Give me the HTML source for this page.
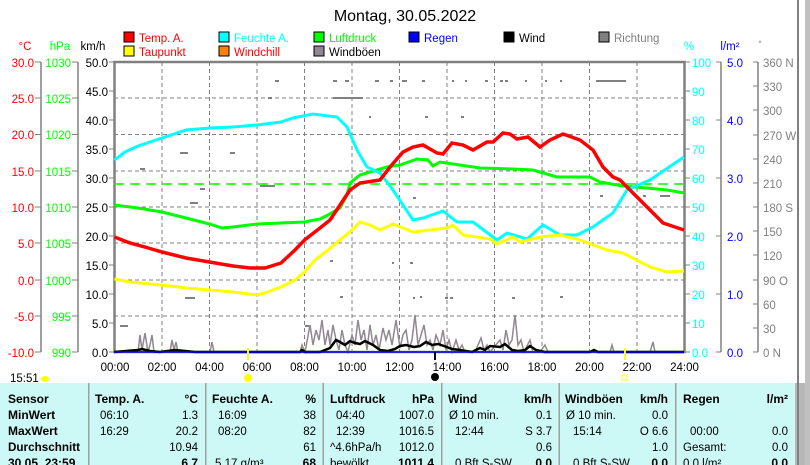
<!DOCTYPE html>
<html><head><meta charset="utf-8"><style>
body{margin:0;background:#fff;width:810px;height:465px;overflow:hidden;font-family:"Liberation Sans",sans-serif}
svg{position:absolute;left:0;top:0}
</style></head><body>
<svg width="810" height="465" viewBox="0 0 810 465" xmlns="http://www.w3.org/2000/svg" font-family="Liberation Sans, sans-serif">
<rect x="0" y="0" width="810" height="465" fill="#fff"/>
<text x="405" y="21" font-size="16" text-anchor="middle">Montag, 30.05.2022</text>
<g font-size="11.5">
<rect x="124" y="32" width="10" height="10" fill="#f00" stroke="#000"/><text x="139" y="42" fill="#f00">Temp. A.</text>
<rect x="219" y="32" width="10" height="10" fill="#0ff" stroke="#000"/><text x="234" y="42" fill="#0ff">Feuchte A.</text>
<rect x="314" y="32" width="10" height="10" fill="#0f0" stroke="#000"/><text x="329" y="42" fill="#0f0">Luftdruck</text>
<rect x="409" y="32" width="10" height="10" fill="#00f" stroke="#000"/><text x="424" y="42" fill="#00f">Regen</text>
<rect x="504" y="32" width="10" height="10" fill="#000" stroke="#000"/><text x="519" y="42" fill="#000">Wind</text>
<rect x="599" y="32" width="10" height="10" fill="#808080" stroke="#000"/><text x="614" y="42" fill="#808080">Richtung</text>
<rect x="124" y="46" width="10" height="10" fill="#ff0" stroke="#000"/><text x="139" y="56" fill="#f00">Taupunkt</text>
<rect x="219" y="46" width="10" height="10" fill="#ff8000" stroke="#000"/><text x="234" y="56" fill="#f00">Windchill</text>
<rect x="314" y="46" width="10" height="10" fill="#908890" stroke="#000"/><text x="329" y="56" fill="#000">Windböen</text>
</g>
<g font-size="11.5">
<text x="25" y="50" fill="#f00" text-anchor="middle">°C</text>
<text x="60" y="50" fill="#0f0" text-anchor="middle">hPa</text>
<text x="93" y="50" fill="#000" text-anchor="middle">km/h</text>
<text x="689" y="50" fill="#0ff" text-anchor="middle">%</text>
<text x="730" y="50" fill="#00f" text-anchor="middle">l/m²</text>
<text x="760" y="47" fill="#808080" text-anchor="middle" font-size="9">°</text>
</g>
<g stroke="#808080" stroke-width="1.5">
<line x1="41" y1="62" x2="41" y2="352"/><line x1="78" y1="62" x2="78" y2="352"/>
<line x1="721" y1="62" x2="721" y2="352"/><line x1="758" y1="62" x2="758" y2="352"/>
</g>
<g font-size="11.5" text-anchor="end">
<g fill="#f00">
<text x="34" y="67">30.0</text><text x="34" y="103">25.0</text><text x="34" y="139">20.0</text><text x="34" y="176">15.0</text><text x="34" y="212">10.0</text><text x="34" y="248">5.0</text><text x="34" y="285">0.0</text><text x="34" y="321">-5.0</text><text x="34" y="357">-10.0</text></g>
<g fill="#0f0">
<text x="71" y="67">1030</text><text x="71" y="103">1025</text><text x="71" y="139">1020</text><text x="71" y="176">1015</text><text x="71" y="212">1010</text><text x="71" y="248">1005</text><text x="71" y="285">1000</text><text x="71" y="321">995</text><text x="71" y="357">990</text></g>
<g fill="#000">
<text x="108" y="67">50.0</text><text x="108" y="96">45.0</text><text x="108" y="125">40.0</text><text x="108" y="154">35.0</text><text x="108" y="183">30.0</text><text x="108" y="212">25.0</text><text x="108" y="241">20.0</text><text x="108" y="270">15.0</text><text x="108" y="299">10.0</text><text x="108" y="328">5.0</text><text x="108" y="357">0.0</text></g>
</g>
<g stroke="#808080" stroke-width="1">
<path d="M35 62H41M35 98H41M35 134.5H41M35 171H41M35 207H41M35 243H41M35 280H41M35 316H41M35 352H41"/>
<path d="M72 62H78M72 98H78M72 134.5H78M72 171H78M72 207H78M72 243H78M72 280H78M72 316H78M72 352H78"/>
<path d="M109 62H114M109 91H114M109 120H114M109 149H114M109 178H114M109 207H114M109 236H114M109 265H114M109 294H114M109 323H114M109 352H114"/>
<path d="M685 62H690M685 91H690M685 120H690M685 149H690M685 178H690M685 207H690M685 236H690M685 265H690M685 294H690M685 323H690M685 352H690"/>
<path d="M716 62H721M716 120H721M716 178H721M716 236H721M716 294H721M716 352H721"/>
<path d="M753 62H758M753 86H758M753 110H758M753 135H758M753 159H758M753 183H758M753 207H758M753 231H758M753 255H758M753 280H758M753 304H758M753 328H758M753 352H758"/>
</g>
<g font-size="11.5">
<g fill="#0ff"><text x="692" y="67">100</text><text x="692" y="96">90</text><text x="692" y="125">80</text><text x="692" y="154">70</text><text x="692" y="183">60</text><text x="692" y="212">50</text><text x="692" y="241">40</text><text x="692" y="270">30</text><text x="692" y="299">20</text><text x="692" y="328">10</text><text x="692" y="357">0.0</text></g>
<g fill="#00f"><text x="727" y="67">5.0</text><text x="727" y="125">4.0</text><text x="727" y="183">3.0</text><text x="727" y="241">2.0</text><text x="727" y="299">1.0</text><text x="727" y="357">0.0</text></g>
<g fill="#808080"><text x="763" y="67">360 N</text><text x="763" y="91">330</text><text x="763" y="115">300</text><text x="763" y="140">270 W</text><text x="763" y="164">240</text><text x="763" y="188">210</text><text x="763" y="212">180 S</text><text x="763" y="236">150</text><text x="763" y="260">120</text><text x="763" y="285">90 O</text><text x="763" y="309">60</text><text x="763" y="333">30</text><text x="763" y="357">0 N</text></g>
</g>
<g stroke="#808080" stroke-dasharray="4,3" stroke-width="1">
<path d="M162 62V352M209.5 62V352M257 62V352M304.5 62V352M352 62V352M399.5 62V352M447 62V352M494.5 62V352M542 62V352M589.5 62V352M637 62V352"/>
<path d="M114 98H684M114 134.5H684M114 171H684M114 207H684M114 243H684M114 280H684M114 316H684"/>
</g>
<rect x="114.5" y="62" width="570" height="290" fill="none" stroke="#808080" stroke-width="2.5"/>
<g fill="#808080">
<rect x="275" y="80" width="4" height="2"/><rect x="333" y="80" width="4" height="2"/><rect x="345" y="80" width="4" height="2"/><rect x="375" y="80" width="4" height="2"/><rect x="333" y="97" width="30" height="2"/><rect x="390" y="80" width="3" height="2"/><rect x="402" y="80" width="5" height="2"/><rect x="422" y="80" width="3" height="2"/><rect x="452" y="80" width="2" height="2"/><rect x="465" y="80" width="2" height="2"/><rect x="485" y="80" width="3" height="2"/><rect x="500" y="80" width="3" height="2"/><rect x="505" y="80" width="3" height="2"/><rect x="525" y="80" width="2" height="2"/><rect x="545" y="80" width="2" height="2"/><rect x="560" y="80" width="2" height="2"/><rect x="596" y="80" width="30" height="2"/><rect x="268" y="97" width="4" height="2"/><rect x="369" y="116" width="2" height="2"/><rect x="425" y="116" width="3" height="2"/><rect x="461" y="116" width="3" height="2"/><rect x="180" y="152" width="8" height="2"/><rect x="230" y="152" width="5" height="2"/><rect x="200" y="188" width="5" height="2"/><rect x="260" y="185" width="15" height="2"/><rect x="190" y="202" width="8" height="2"/><rect x="140" y="168" width="5" height="2"/><rect x="185" y="297" width="10" height="2"/><rect x="330" y="260" width="3" height="2"/><rect x="410" y="262" width="3" height="2"/><rect x="340" y="296" width="3" height="2"/><rect x="420" y="296" width="2" height="2"/><rect x="445" y="297" width="3" height="2"/><rect x="512" y="297" width="3" height="2"/><rect x="413" y="297" width="2" height="2"/><rect x="392" y="262" width="2" height="2"/><rect x="413" y="197" width="3" height="2"/><rect x="600" y="195" width="3" height="2"/><rect x="643" y="195" width="3" height="2"/><rect x="660" y="195" width="10" height="2"/><rect x="120" y="325" width="8" height="2"/><rect x="305" y="325" width="4" height="2"/><rect x="450" y="297" width="3" height="2"/><rect x="560" y="296" width="3" height="2"/></g>
<polyline fill="none" stroke="#908890" stroke-width="1.5" points="138,352 140,335 142,350 145,333 148,352 150,345 152,335 154,352 170,352 172,340 174,350 176,342 178,352 210,352 212,342 214,352 300,352 302,345 305,352 310,325 313,345 316,330 319,340 322,320 325,345 328,330 330,345 333,325 336,340 339,350 342,330 345,345 348,352 352,335 355,345 358,320 361,340 364,330 367,350 370,325 373,345 376,335 379,350 383,328 386,340 389,330 392,345 396,320 400,348 403,335 406,330 409,350 412,340 415,315 418,345 421,335 424,325 427,345 430,340 433,350 436,335 440,345 443,330 446,350 449,340 452,352 456,340 459,350 462,345 465,352 475,352 478,345 481,338 484,350 487,345 490,352 500,340 503,350 506,330 509,345 512,340 515,315 518,345 521,340 524,352 530,340 533,352 540,352 545,345 548,352 610,352 612,345 614,352 650,352 653,342 655,352"/>
<polyline fill="none" stroke="#000" stroke-width="2.5" points="114,352 138,350 142,349 150,351 160,352 175,350 185,351 195,352 300,352 302,350 305,352 320,352 330,348 336,340 340,342 345,345 350,341 355,343 360,344 365,341 373,345 380,350 388,351 395,349 400,346 406,345 414,347 420,346 426,342 432,345 438,344 444,346 452,349 460,350 472,352 480,348 485,350 490,346 500,347 505,344 512,350 518,351 525,350 530,346 536,350 545,352 590,352 594,350 598,352 684,352"/>
<line x1="114" y1="352" x2="684" y2="352" stroke="#00f" stroke-width="1.5"/>
<line x1="114" y1="184" x2="684" y2="184" stroke="#0f0" stroke-width="1.5" stroke-dasharray="10,6"/>
<polyline fill="none" stroke="#0f0" stroke-width="3" points="114.5,205 138,208 162,212 186,218 209.5,224 222,228 233,227 257,224 281,223 304.5,222 320,219 328,215 340,208 347,195 350,183 360,175 387,167 400,165 417,159 428,160 433,166 440,162 453,164 480,168 513,169 533,170 557,177 590,177 600,182 623,186 647,188 667,190 684.5,193"/>
<polyline fill="none" stroke="#0ff" stroke-width="3" points="114.5,160 125,152 138,146 150,142 162,138 186,130 209.5,128 233,127 257,125 281,122 293,118 313,114 337,117 347,127 357,150 367,167 380,173 393,190 413,220 423,218 443,211 457,222 473,222 497,240 507,233 527,239 543,225 560,235 577,235 593,227 613,213 627,190 650,180 684,157"/>
<polyline fill="none" stroke="#ff0" stroke-width="3" points="114.5,279 130,282 150,284 170,286 186,288 209.5,290 233,292 257,295 265,293 281,287 295,280 304.5,272 315,260 328,250 340,240 352,230 360,222 370,225 380,230 393,224 413,232 447,228 453,225 463,235 490,239 497,244 513,237 520,242 540,237 560,235 580,240 607,250 623,253 650,267 667,272 684,271"/>
<polyline fill="none" stroke="#f00" stroke-width="3.5" points="114.5,237 130,243 145,247 162,252 186,258 209.5,262 233,266 250,268 265,268 281,263 295,250 304.5,240 320,228 330,220 340,205 350,190 360,183 380,180 390,167 403,152 413,147 423,145 437,153 443,154 452,143 463,145 473,150 487,142 493,142 503,133 510,134 517,139 528,137 540,147 550,140 563,134 580,140 593,150 603,167 613,177 620,180 640,200 663,223 684,230"/>
<g font-size="11.5" text-anchor="middle">
<text x="115" y="371">00:00</text><text x="162" y="371">02:00</text><text x="209.5" y="371">04:00</text><text x="257" y="371">06:00</text><text x="304.5" y="371">08:00</text><text x="352" y="371">10:00</text><text x="399.5" y="371">12:00</text><text x="447" y="371">14:00</text><text x="494.5" y="371">16:00</text><text x="542" y="371">18:00</text><text x="589.5" y="371">20:00</text><text x="637" y="371">22:00</text><text x="684.5" y="371">24:00</text>
</g>
<text x="10" y="382" font-size="11.5">15:51</text>
<ellipse cx="45" cy="379" rx="4" ry="3" fill="#ff0"/>
<circle cx="248" cy="378" r="4" fill="#ff0"/>
<line x1="248" y1="348" x2="248" y2="360" stroke="#ff0" stroke-width="2"/>
<line x1="435" y1="352" x2="435" y2="360" stroke="#000" stroke-width="2"/>
<circle cx="435" cy="377" r="4" fill="#000"/>
<rect x="622" y="375" width="5" height="5" fill="none" stroke="#ff0"/>
<line x1="625" y1="348" x2="625" y2="360" stroke="#ff0" stroke-width="2"/>
<rect x="0" y="383" width="795" height="82" fill="#ccf8f5"/>
<rect x="795" y="383" width="15" height="82" fill="#b8b8b8"/>
<rect x="797" y="0" width="2" height="465" fill="#808080"/>
<rect x="805" y="0" width="5" height="465" fill="#c0c0c0"/>
<g fill="#a0a0a0"><rect x="88" y="383" width="1.5" height="82"/><rect x="205" y="383" width="1.5" height="82"/><rect x="322.5" y="383" width="1.5" height="82"/><rect x="441" y="383" width="1.5" height="82"/><rect x="558.5" y="383" width="1.5" height="82"/><rect x="675" y="383" width="1.5" height="82"/></g>
<g font-size="12" font-weight="bold">
<text x="8" y="403">Sensor</text><text x="8" y="419">MinWert</text><text x="8" y="435">MaxWert</text><text x="8" y="451" textLength="72" lengthAdjust="spacingAndGlyphs">Durchschnitt</text><text x="8" y="467">30.05. 23:59</text>
<text x="95" y="403">Temp. A.</text><text x="212" y="403">Feuchte A.</text><text x="330" y="403">Luftdruck</text><text x="448" y="403">Wind</text><text x="565" y="403">Windböen</text><text x="683" y="403">Regen</text>
<g text-anchor="end"><text x="198" y="403">°C</text><text x="316" y="403">%</text><text x="434" y="403">hPa</text><text x="552" y="403">km/h</text><text x="668" y="403">km/h</text><text x="788" y="403">l/m²</text>
<text x="198" y="467">6.7</text><text x="316" y="467">68</text><text x="434" y="467">1011.4</text><text x="552" y="467">0.0</text><text x="668" y="467">0.0</text><text x="788" y="467">0.0</text></g>
</g>
<g font-size="11.5">
<text x="100" y="419">06:10</text><text x="100" y="435">16:29</text>
<text x="218" y="419">16:09</text><text x="218" y="435">08:20</text><text x="215" y="467">5.17 g/m³</text>
<text x="336" y="419">04:40</text><text x="336" y="435">12:39</text><text x="330" y="451">^4.6hPa/h</text><text x="330" y="467">bewölkt</text>
<text x="449" y="419">Ø 10 min.</text><text x="455" y="435">12:44</text><text x="455" y="467">0 Bft S-SW</text>
<text x="566" y="419">Ø 10 min.</text><text x="573" y="435">15:14</text><text x="573" y="467">0 Bft S-SW</text>
<text x="690" y="435">00:00</text><text x="683" y="451">Gesamt:</text><text x="683" y="467">0.0 l/m²</text>
<g text-anchor="end">
<text x="198" y="419">1.3</text><text x="198" y="435">20.2</text><text x="198" y="451">10.94</text>
<text x="316" y="419">38</text><text x="316" y="435">82</text><text x="316" y="451">61</text>
<text x="434" y="419">1007.0</text><text x="434" y="435">1016.5</text><text x="434" y="451">1012.0</text>
<text x="552" y="419">0.1</text><text x="552" y="435">S 3.7</text><text x="552" y="451">0.6</text>
<text x="668" y="419">0.0</text><text x="668" y="435">O 6.6</text><text x="668" y="451">1.0</text>
<text x="788" y="435">0.0</text><text x="788" y="451">0.0</text>
</g></g>
</svg>
</body></html>
